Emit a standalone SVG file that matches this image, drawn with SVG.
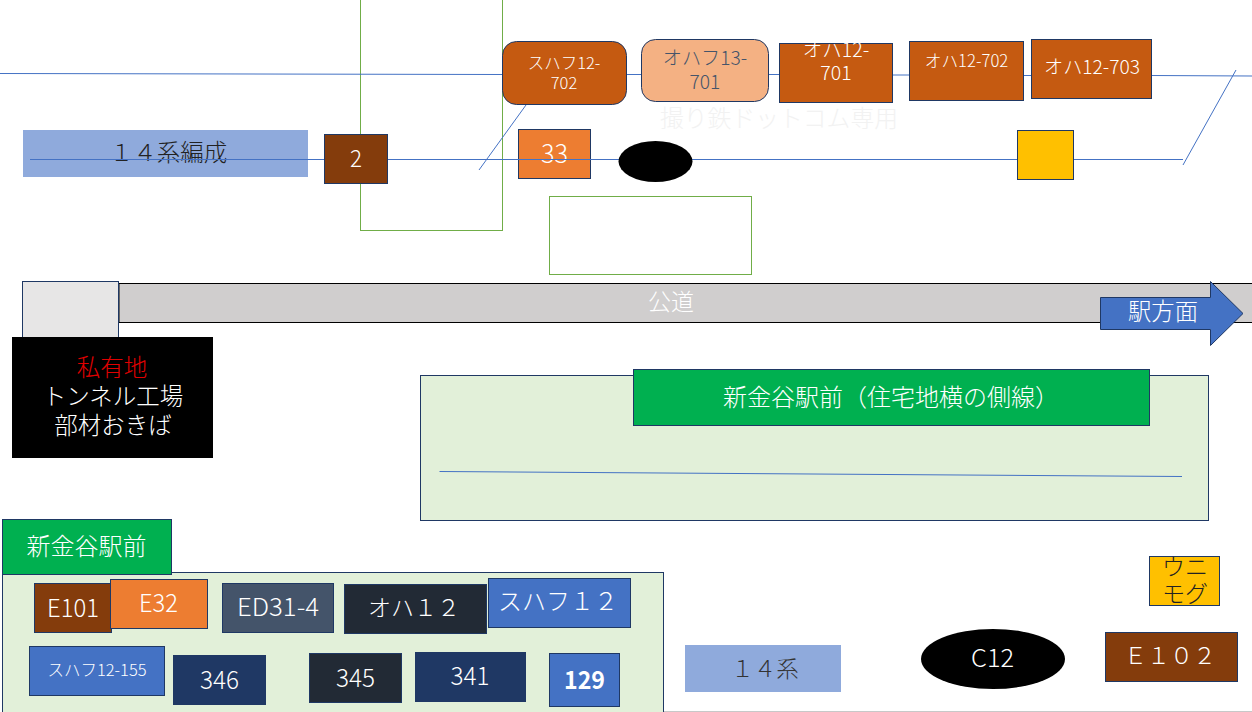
<svg xmlns="http://www.w3.org/2000/svg" width="1252" height="712" viewBox="0 0 1252 712">
<style>
text{font-family:"Noto Sans CJK JP","Noto Sans",sans-serif;font-weight:300;text-anchor:middle;dominant-baseline:central;fill:#fff}
.s{stroke:#1f3864;stroke-width:1}
.d{fill:#222}
.l{fill:none;stroke:#4472c4;stroke-width:1}
.g{fill:none;stroke:#70ad47;stroke-width:1}
.br{fill:#c55a11}
.dk{fill:#843c0c}
.or{fill:#ed7d31}
.bl{fill:#4472c4}
.nv{fill:#1f3864}
.ch{fill:#222a35}
.sk{fill:#8faadc}
.ye{fill:#ffc000}
</style>
<rect width="1252" height="712" fill="#fff"/>
<g id="frame-tall"><rect class="g" x="360.5" y="-5" width="142" height="235.500"/></g>
<g id="frame-small"><rect class="g" x="549.500" y="196.500" width="202" height="78"/></g>
<g id="connectors">
<path class="l" d="M0 73.500L503 74.500M627 74.500H641M769 74.500H779M893 75H909M1024 75.500H1031M1151 75.500L1252 76"/>
<path class="l" d="M30 159.500H1183"/>
<path class="l" d="M479 170L526 105M1183 165L1236 70"/>
</g>
<g id="n-14kei-hensei"><rect class="sk" x="23" y="130" width="285" height="47"/><text x="168.500" y="151" font-size="23.500" class="d">１４系編成</text><path class="l" d="M30 159.500H308"/></g>
<g id="n-2"><rect class="dk s" x="324.500" y="134.500" width="63" height="49"/><text x="356" y="156" font-size="24" textLength="12" lengthAdjust="spacingAndGlyphs">2</text></g>
<g id="n-33"><rect class="or s" x="518.500" y="129.500" width="72" height="49"/><text x="554.500" y="151" font-size="26" textLength="27" lengthAdjust="spacingAndGlyphs">33</text><path class="l" d="M518 159.500H591"/></g>
<ellipse id="n-black" cx="655.500" cy="161.500" rx="37" ry="20.500" fill="#000"/>
<g id="n-yellow"><rect class="ye s" x="1017.500" y="130.500" width="56" height="49"/></g>
<g id="n-suhafu702"><rect class="br s" x="502.500" y="41.500" width="124" height="63" rx="14"/><text x="564" y="62" font-size="16.500">スハフ12-</text><text x="564" y="81.500" font-size="16.500">702</text></g>
<g id="n-ohafu701"><rect x="641.500" y="39.500" width="127" height="62" rx="14" fill="#f4b183" class="s"/><text x="705" y="57" font-size="19.200" style="fill:#44546a">オハフ13-</text><text x="705" y="81" font-size="19.200" style="fill:#44546a">701</text></g>
<text id="watermark" x="779" y="116" font-size="23.800" style="fill:#f2f2f2">撮り鉄ドットコム専用</text>
<g id="n-oha701"><rect class="br s" x="779.500" y="43.500" width="113" height="59"/><text x="836" y="48" font-size="19.500">オハ12-</text><text x="836" y="71.500" font-size="19.500">701</text></g>
<g id="n-oha702"><rect class="br s" x="909.500" y="41.500" width="114" height="59"/><text x="966.500" y="60" font-size="16.700">オハ12-702</text></g>
<g id="n-oha703"><rect class="br s" x="1031.500" y="39.500" width="120" height="59"/><text x="1092" y="65.500" font-size="19.200">オハ12-703</text></g>
<g id="road"><rect x="119" y="283.500" width="1140" height="39" fill="#d0cece" stroke="#000"/><text x="671" y="300" font-size="23">公道</text></g>
<g id="n-gray"><rect x="22.500" y="281.500" width="96" height="60" fill="#e7e6e6" class="s"/></g>
<g id="n-private"><rect x="12" y="337" width="201" height="121" fill="#000"/><text x="112" y="366" font-size="23.500" style="fill:#e00000">私有地</text><text x="113" y="395" font-size="23.500">トンネル工場</text><text x="113" y="424" font-size="23.500">部材おきば</text></g>
<g id="n-arrow"><path class="bl s" d="M1100.500 297.500H1210.500V281.500L1243 313.500L1210.500 345.500V329.500H1100.500Z"/><text x="1163" y="310" font-size="23.300">駅方面</text></g>
<g id="n-panel-siding"><rect x="420.500" y="375.500" width="788" height="145" fill="#e2f0d9" class="s"/></g>
<path id="siding" class="l" d="M439.500 471.500L1182 476.500"/>
<g id="n-siding-title"><rect x="633.500" y="369.500" width="516" height="56" fill="#00b050" class="s"/><text x="891" y="395" font-size="24">新金谷駅前（住宅地横の側線）</text></g>
<path d="M664 711.500H1252" stroke="#c8c8c8" stroke-width="1"/>
<g id="n-panel-station"><rect x="2.500" y="572.500" width="661" height="145" fill="#e2f0d9" class="s"/></g>
<g id="n-station-title"><rect x="2.500" y="519.500" width="169" height="55" fill="#00b050" class="s"/><text x="86.500" y="544" font-size="24">新金谷駅前</text></g>
<g id="n-e101"><rect class="dk s" x="34.500" y="583.500" width="77" height="49"/><text x="73" y="606" font-size="25" textLength="52" lengthAdjust="spacingAndGlyphs">E101</text></g>
<g id="n-e32"><rect class="or s" x="110.500" y="579.500" width="97" height="49"/><text x="158.500" y="601" font-size="25" textLength="39" lengthAdjust="spacingAndGlyphs">E32</text></g>
<g id="n-ed31"><rect x="222.500" y="583.500" width="111" height="49" fill="#44546a" class="s"/><text x="278" y="605" font-size="25" textLength="82" lengthAdjust="spacingAndGlyphs">ED31-4</text></g>
<g id="n-oha12"><rect class="ch s" x="344.500" y="584.500" width="142" height="49"/><text x="414" y="606" font-size="23">オハ１２</text></g>
<g id="n-suhafu12"><rect class="bl s" x="488.500" y="578.500" width="142" height="49"/><text x="558" y="599" font-size="24">スハフ１２</text></g>
<g id="n-suhafu155"><rect class="bl s" x="29.500" y="646.500" width="135" height="49"/><text x="97" y="669" font-size="16.500">スハフ12-155</text></g>
<g id="n-346"><rect class="nv s" x="173.500" y="655.500" width="92" height="49"/><text x="219.500" y="678" font-size="25" textLength="39" lengthAdjust="spacingAndGlyphs">346</text></g>
<g id="n-345"><rect class="ch s" x="309.500" y="653.500" width="92" height="49"/><text x="355.500" y="676" font-size="25" textLength="39" lengthAdjust="spacingAndGlyphs">345</text></g>
<g id="n-341"><rect class="nv s" x="415.500" y="652.500" width="110" height="49"/><text x="470" y="674" font-size="25" textLength="39" lengthAdjust="spacingAndGlyphs">341</text></g>
<g id="n-129"><rect class="bl s" x="549.500" y="653.500" width="70" height="53"/><text x="584.500" y="678" font-size="25" style="font-weight:700" textLength="41" lengthAdjust="spacingAndGlyphs">129</text></g>
<g id="n-14kei"><rect class="sk" x="685" y="645" width="156" height="47"/><text x="765" y="667" font-size="22.500" style="fill:#333">１４系</text></g>
<g id="n-c12"><ellipse cx="993" cy="659" rx="72" ry="30" fill="#000"/><text x="992.500" y="656" font-size="25" textLength="43" lengthAdjust="spacingAndGlyphs">C12</text></g>
<g id="n-e102"><rect class="dk s" x="1105.500" y="632.500" width="132" height="49"/><text x="1170" y="654" font-size="23">Ｅ１０２</text></g>
<g id="n-unimog"><rect class="ye s" x="1149.500" y="556.500" width="70" height="49"/><text x="1185" y="565" font-size="23" class="d">ウニ</text><text x="1185" y="592" font-size="23" class="d">モグ</text></g>
</svg>
